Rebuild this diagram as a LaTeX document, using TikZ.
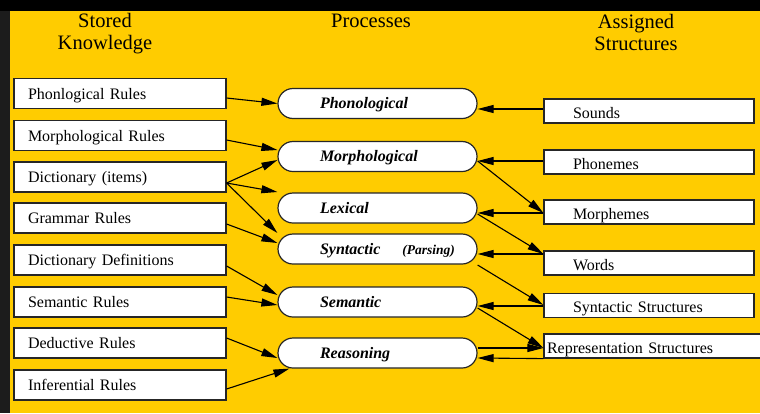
\documentclass[tikz,border=0pt]{standalone}
\usepackage{fontspec}
\setmainfont{Liberation Serif}
\usepackage{tikz}
\usetikzlibrary{arrows.meta, positioning}
\definecolor{slideyellow}{RGB}{255,204,0}
\definecolor{framedark}{RGB}{28,28,28}

\begin{document}
\begin{tikzpicture}[
    x=1pt, y=-1pt,
    % Node styles
    header/.style={font=\fontsize{20.5}{22}\selectfont, align=center},
    rulebox/.style={rectangle, draw=black!85, line width=1.2pt, fill=white, minimum width=212pt, minimum height=30pt, inner xsep=14pt, text width=184pt, align=left, text height=13pt, text depth=2pt, font=\fontsize{16}{19}\selectfont},
    process/.style={rectangle, rounded corners=15pt, draw=black!85, line width=1.2pt, fill=white, minimum width=199pt, minimum height=30pt, inner xsep=42pt, text width=115pt, align=left, text height=12.5pt, text depth=2.5pt, font=\fontsize{16}{19}\selectfont\bfseries\itshape},
    structbox/.style={rectangle, draw=black!85, line width=1.2pt, fill=white, minimum width=210pt, minimum height=24pt, inner xsep=29pt, text width=152pt, align=left, text height=15pt, text depth=1pt, font=\fontsize{16}{19}\selectfont},
    arrow/.style={-{Triangle[length=16pt, width=8pt]}, line width=1.1pt},
]

% ============================================================================
% SLIDE BACKGROUND
% ============================================================================
\useasboundingbox (0,0) rectangle (760,413);
\clip (0,0) rectangle (760,413);
\fill[framedark] (0,0) rectangle (760,413);
\fill[black] (0,0) rectangle (760,11);
\fill[slideyellow] (10,11) rectangle (760,413);

% Column headings
\node[header] (hstored) at (105,34) {Stored\\Knowledge};
\node[header] (hproc) at (371,21) {Processes};
\node[header] (hassign) at (636,32) {Assigned\\Structures};

% ============================================================================
% LEFT COLUMN: STORED KNOWLEDGE
% ============================================================================
\node[rulebox] (phonrules) at (120,93.5) {Phonlogical Rules};
\node[rulebox] (morphrules) at (120,135.5) {Morphological Rules};
\node[rulebox] (dictitems) at (120,177) {Dictionary (items)};
\node[rulebox] (grammar) at (120,218) {Grammar Rules};
\node[rulebox] (dictdefs) at (120,260) {Dictionary Definitions};
\node[rulebox] (semrules) at (120,302) {Semantic Rules};
\node[rulebox] (deductive) at (120,343) {Deductive Rules};
\node[rulebox] (inferential) at (120,385) {Inferential Rules};

% ============================================================================
% MIDDLE COLUMN: PROCESSES
% ============================================================================
\node[process] (phon) at (377.5,103.5) {Phonological};
\node[process] (morph) at (377.5,156.5) {Morphological};
\node[process] (lex) at (377.5,208) {Lexical};
\node[process] (synt) at (377.5,249) {Syntactic\rlap{\hspace{22pt}\fontsize{13.5}{16}\selectfont(Parsing)}};
\node[process] (sem) at (377.5,302) {Semantic};
\node[process] (reas) at (377.5,353) {Reasoning};

% ============================================================================
% RIGHT COLUMN: ASSIGNED STRUCTURES
% ============================================================================
\node[structbox] (sounds) at (649,111) {Sounds};
\node[structbox] (phonemes) at (649,162) {Phonemes};
\node[structbox] (morphemes) at (649,212) {Morphemes};
\node[structbox] (words) at (649,263) {Words};
\node[structbox] (synstruct) at (649,305.5) {Syntactic Structures};
\node[structbox, minimum width=240pt, inner xsep=3pt, text width=234pt] (repr) at (664,346) {Representation Structures};

% Knowledge feeding the processes
\draw[arrow] ([yshift=-4.5pt]phonrules.east) -- (phon.west);
\draw[arrow] ([yshift=-4.5pt]morphrules.east) -- ([yshift=6.5pt]morph.west);
\draw[arrow] ([yshift=-6pt]dictitems.east) -- ([yshift=-3.5pt]morph.west);
\draw[arrow] ([yshift=-6pt]dictitems.east) -- ([yshift=16pt]lex.west);
\draw[arrow] ([yshift=-6pt]dictitems.east) -- ([yshift=16pt]synt.west);
\draw[arrow] ([yshift=-6pt]grammar.east) -- ([yshift=6pt]synt.west);
\draw[arrow] ([yshift=-6pt]dictdefs.east) -- ([yshift=7pt]sem.west);
\draw[arrow] ([yshift=5pt]semrules.east) -- ([yshift=-3pt]sem.west);
\draw[arrow] ([yshift=5pt]deductive.east) -- ([yshift=-5pt]reas.west);
\draw[arrow] ([yshift=-4pt]inferential.east) -- ([xshift=12pt]reas.south west);

% Structures in and out of the processes
\draw[arrow] ([yshift=2pt]sounds.west) -- ([yshift=-5.5pt]phon.east);
\draw[arrow] ([yshift=1pt]phonemes.west) -- ([yshift=-4.5pt]morph.east);
\draw[arrow] ([yshift=-4.5pt]morph.east) -- ([yshift=-1pt]morphemes.west);
\draw[arrow] ([yshift=-1pt]morphemes.west) -- ([yshift=-5pt]lex.east);
\draw[arrow] ([yshift=-6pt]lex.east) -- ([yshift=9pt]words.west);
\draw[arrow] ([yshift=9pt]words.west) -- ([yshift=-5pt]synt.east);
\draw[arrow] ([yshift=-16pt]synt.east) -- ([yshift=0.5pt]synstruct.west);
\draw[arrow] ([yshift=-0.5pt]synstruct.west) -- ([yshift=-4pt]sem.east);
\draw[arrow] ([yshift=-6pt]sem.east) -- ([yshift=-2pt]repr.west);
\draw[arrow] ([yshift=5pt]reas.east) -- ([yshift=-2pt]repr.west);
\draw[arrow] (repr.south west) -- ([yshift=-5pt]reas.east);

\end{tikzpicture}
\end{document}
